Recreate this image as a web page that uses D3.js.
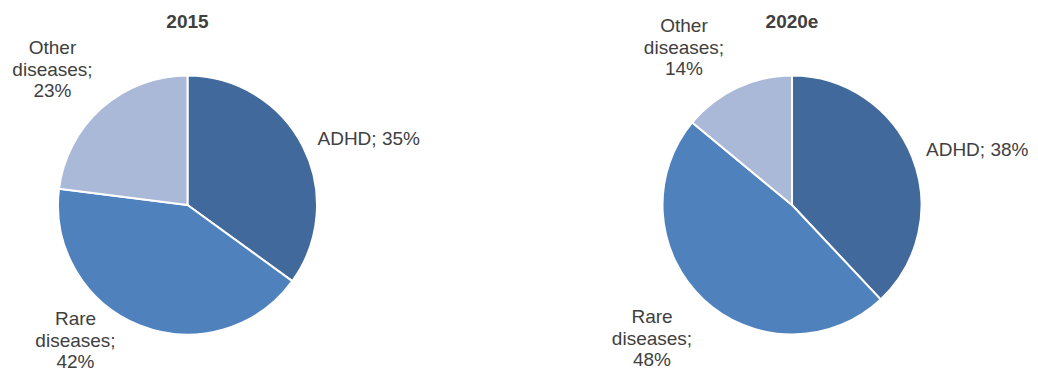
<!DOCTYPE html>
<html>
<head>
<meta charset="utf-8">
<script src="https://cdn.jsdelivr.net/npm/d3@7"></script>
<style>
  html, body { margin: 0; padding: 0; background: #fff; }
  svg { display: block; }
  text { font-family: "Liberation Sans", Arial, sans-serif; fill: #404040; }
</style>
</head>
<body>
<svg id="chart" width="1038" height="374"></svg>
<script>
// Market split by indication
const categories = ["ADHD", "Rare diseases", "Other diseases"];
const years = ["2015", "2020e"];
const share2015 = [35, 42, 23];
const share2020 = [38, 48, 14];
const colors = ["#41699B", "#4F81BD", "#A9B9D7"];

// Label layout per pie: line breaks and anchor positions (relative to pie centre)
const labelLines = [
  v => ["ADHD; " + v + "%"],
  v => ["Rare", "diseases;", v + "%"],
  v => ["Other", "diseases;", v + "%"]
];

const svg = d3.select("#chart");
const radius = 129.5;
const lineH = 21.5;

const pies = [
  { title: years[0], values: share2015, cx: 187.5, cy: 205,
    labels: [{x: 130, y: -60, anchor: "start"}, {x: -112, y: 120, anchor: "middle"}, {x: -135, y: -151, anchor: "middle"}] },
  { title: years[1], values: share2020, cx: 792, cy: 205,
    labels: [{x: 134, y: -49, anchor: "start"}, {x: -140, y: 118, anchor: "middle"}, {x: -108, y: -173, anchor: "middle"}] }
];

const pie = d3.pie().sort(null).value(d => d);
const arc = d3.arc().innerRadius(0).outerRadius(radius);

pies.forEach(p => {
  const g = svg.append("g").attr("transform", `translate(${p.cx},${p.cy})`);

  g.selectAll("path")
    .data(pie(p.values))
    .join("path")
    .attr("d", arc)
    .attr("fill", (d, i) => colors[i])
    .attr("stroke", "#fff")
    .attr("stroke-width", 2)
    .attr("stroke-linejoin", "round");

  svg.append("text")
    .attr("x", p.cx)
    .attr("y", 28)
    .attr("text-anchor", "middle")
    .attr("font-size", 19)
    .attr("font-weight", "bold")
    .text(p.title);

  p.values.forEach((v, i) => {
    const pos = p.labels[i];
    const t = g.append("text")
      .attr("text-anchor", pos.anchor)
      .attr("font-size", 19);
    labelLines[i](v).forEach((line, k) => {
      t.append("tspan")
        .attr("x", pos.x)
        .attr("y", pos.y + k * lineH)
        .text(line);
    });
  });
});
</script>
</body>
</html>
